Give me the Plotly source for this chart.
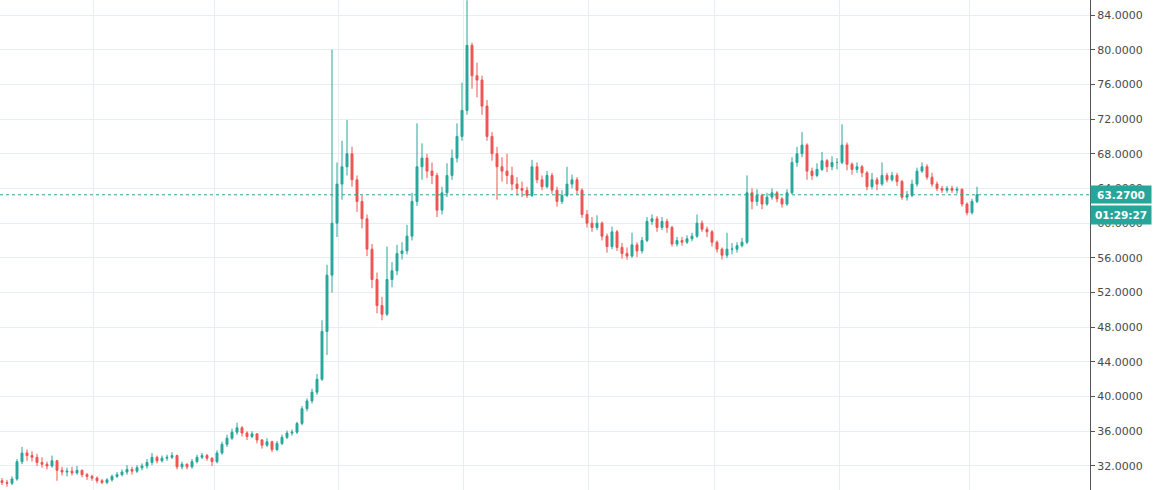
import plotly.graph_objects as go

# ---- data ----
opens = [30.3, 30.1, 30.0, 30.5, 32.5, 33.5, 33.2, 33.0, 32.4, 32.2,
         32.0, 32.6, 31.5, 31.3, 31.4, 31.2, 31.5, 31.0, 30.8, 30.6,
         30.3, 30.1, 30.4, 30.8, 31.0, 31.3, 31.6, 31.4, 31.8, 32.0,
         32.4, 33.0, 32.6, 32.9, 33.0, 33.2, 31.9, 32.2, 31.9, 32.5,
         33.0, 33.2, 32.9, 32.5, 33.5, 34.5, 35.2, 35.9, 36.4, 35.8,
         35.4, 35.7, 35.0, 34.4, 34.8, 33.9, 34.6, 35.3, 35.8, 35.9,
         36.9, 38.6, 39.5, 40.5, 42.0, 47.5, 54.0, 60.0, 64.5, 66.5,
         68.0, 65.0, 62.5, 60.5, 57.0, 53.5, 50.5, 49.5, 53.5, 54.5,
         56.5, 56.8, 58.5, 62.5, 66.5, 67.5, 66.0, 65.5, 61.5, 63.5,
         65.5, 67.5, 70.0, 73.0, 80.5, 77.0, 76.5, 73.5, 70.0, 68.0,
         66.5, 66.0, 65.5, 64.5, 64.0, 63.8, 63.2, 66.5, 65.0, 64.2,
         65.5, 63.8, 62.5, 63.2, 64.5, 65.0, 63.8, 61.0, 60.0, 59.5,
         60.0, 58.5, 57.3, 59.0, 57.2, 56.5, 56.2, 57.5, 56.8, 58.0,
         60.2, 60.5, 59.5, 60.2, 59.5, 57.6, 58.0, 57.8, 58.2, 58.5,
         60.0, 59.3, 59.0, 57.8, 57.0, 56.3, 57.0, 57.0, 57.4, 57.8,
         63.5, 62.5, 63.2, 62.2, 63.0, 63.5, 62.8, 62.2, 63.5, 67.0,
         68.0, 69.0, 66.0, 65.5, 66.2, 67.2, 66.5, 67.0, 67.0, 69.0,
         66.8, 66.2, 66.5, 65.8, 64.2, 65.0, 64.5, 65.5, 65.0, 65.5,
         64.8, 63.0, 63.2, 64.5, 66.0, 66.5, 65.3, 64.5, 64.0, 63.8,
         64.0, 63.8, 63.9, 62.2, 61.2, 62.5]

highs = [30.6, 30.4, 30.8, 32.8, 34.2, 33.9, 33.7, 33.4, 33.0, 32.5,
         33.2, 32.7, 31.9, 31.8, 31.9, 32.0, 31.6, 31.2, 31.0, 30.8,
         30.5, 30.6, 31.0, 31.3, 31.6, 32.1, 31.9, 32.1, 32.3, 32.8,
         33.5, 33.2, 33.2, 33.3, 33.6, 33.3, 32.5, 32.3, 32.8, 33.3,
         33.5, 33.4, 33.0, 33.8, 34.8, 35.6, 36.3, 37.0, 36.6, 36.0,
         36.0, 35.8, 35.1, 35.2, 34.9, 34.9, 35.6, 36.1, 36.2, 37.1,
         38.9, 39.8, 40.9, 42.6, 48.8, 55.2, 80.0, 67.0, 69.5, 71.9,
         68.8, 65.5, 63.2, 61.0, 57.6, 54.3, 51.5, 57.3, 55.5, 57.5,
         57.8, 59.8, 63.5, 71.5, 69.2, 68.0, 67.0, 65.8, 64.2, 66.9,
         68.5, 71.5, 76.2, 85.7, 80.8, 78.5, 77.0, 74.2, 70.5, 68.8,
         67.6, 68.0, 66.5, 65.3, 64.8, 64.2, 67.3, 67.0, 65.5, 66.0,
         65.8, 64.2, 63.8, 66.5, 65.6, 65.3, 64.0, 61.5, 60.7, 60.9,
         60.2, 58.8, 59.6, 59.2, 57.7, 57.2, 58.9, 57.8, 58.4, 60.7,
         61.0, 60.8, 60.7, 60.5, 59.7, 58.4, 58.4, 58.6, 58.9, 61.0,
         60.3, 59.6, 59.2, 58.0, 57.2, 58.9, 57.7, 57.8, 58.3, 65.5,
         64.0, 63.9, 63.4, 63.5, 64.0, 63.7, 63.0, 63.9, 67.6, 68.8,
         70.5, 69.2, 66.4, 66.9, 68.2, 67.4, 67.7, 67.5, 71.4, 69.3,
         67.0, 67.0, 66.7, 66.0, 65.8, 65.3, 67.0, 65.8, 65.9, 65.8,
         65.0, 63.7, 65.0, 66.4, 67.0, 66.8, 65.8, 64.8, 64.3, 64.3,
         64.3, 64.2, 64.0, 62.4, 62.8, 64.2]

lows = [29.8, 29.6, 29.8, 30.3, 32.2, 32.6, 32.5, 32.0, 31.8, 31.6,
        31.8, 30.3, 30.9, 30.8, 30.9, 31.0, 30.7, 30.4, 30.3, 30.0,
        29.9, 29.9, 30.2, 30.6, 30.8, 31.0, 31.0, 31.2, 31.5, 31.7,
        32.1, 32.3, 32.4, 32.6, 32.8, 31.6, 31.6, 31.6, 31.7, 32.3,
        32.8, 32.6, 32.0, 32.3, 33.3, 34.2, 35.0, 35.6, 35.4, 35.0,
        35.2, 34.6, 34.0, 34.2, 33.6, 33.7, 34.4, 35.1, 35.5, 35.7,
        36.7, 38.3, 39.2, 40.2, 41.8, 44.8, 52.0, 58.4, 62.7, 65.5,
        64.2, 61.3, 59.4, 56.2, 52.5, 49.6, 48.8, 49.3, 52.6, 54.0,
        55.8, 56.4, 58.0, 62.0, 65.0, 65.2, 64.5, 60.7, 61.0, 63.0,
        65.0, 67.0, 69.5, 72.5, 75.5, 74.5, 72.5, 69.5, 67.2, 62.7,
        64.8, 64.5, 63.8, 63.2, 63.0, 62.9, 63.0, 64.6, 63.8, 64.0,
        63.4, 61.9, 62.2, 63.0, 64.0, 63.3, 60.6, 59.5, 59.0, 59.2,
        58.0, 56.6, 57.0, 56.8, 55.9, 55.8, 56.0, 56.1, 56.5, 57.8,
        59.8, 59.0, 59.2, 58.9, 57.3, 57.3, 57.4, 57.6, 57.9, 58.3,
        59.0, 58.4, 57.3, 56.6, 55.8, 56.0, 56.4, 56.6, 57.2, 57.6,
        61.6, 62.0, 61.6, 62.0, 62.7, 62.4, 61.8, 62.0, 63.3, 66.5,
        67.6, 65.0, 65.0, 65.3, 66.0, 65.9, 66.1, 66.2, 66.8, 66.1,
        65.6, 65.8, 65.3, 63.8, 63.9, 63.8, 64.3, 64.7, 64.8, 64.3,
        62.7, 62.6, 63.0, 64.2, 65.8, 65.0, 64.2, 63.7, 63.5, 63.5,
        63.5, 63.4, 61.9, 60.9, 61.0, 62.3]

closes = [30.1, 30.0, 30.5, 32.5, 33.5, 33.2, 33.0, 32.4, 32.2, 32.0,
          32.6, 31.5, 31.3, 31.4, 31.2, 31.5, 31.0, 30.8, 30.6, 30.3,
          30.1, 30.4, 30.8, 31.0, 31.3, 31.6, 31.4, 31.8, 32.0, 32.4,
          33.0, 32.6, 32.9, 33.0, 33.2, 31.9, 32.2, 31.9, 32.5, 33.0,
          33.2, 32.9, 32.5, 33.5, 34.5, 35.2, 35.9, 36.4, 35.8, 35.4,
          35.7, 35.0, 34.4, 34.8, 33.9, 34.6, 35.3, 35.8, 35.9, 36.9,
          38.6, 39.5, 40.5, 42.0, 47.5, 54.0, 60.0, 64.5, 66.5, 68.0,
          65.0, 62.5, 60.5, 57.0, 53.5, 50.5, 49.5, 53.5, 54.5, 56.5,
          56.8, 58.5, 62.5, 66.5, 67.5, 66.0, 65.5, 61.5, 63.5, 65.5,
          67.5, 70.0, 73.0, 80.5, 77.0, 76.5, 73.5, 70.0, 68.0, 66.5,
          66.0, 65.5, 64.5, 64.0, 63.8, 63.2, 66.5, 65.0, 64.2, 65.5,
          63.8, 62.5, 63.2, 64.5, 65.0, 63.8, 61.0, 60.0, 59.5, 60.0,
          58.5, 57.3, 59.0, 57.2, 56.5, 56.2, 57.5, 56.8, 58.0, 60.2,
          60.5, 59.5, 60.2, 59.5, 57.6, 58.0, 57.8, 58.2, 58.5, 60.0,
          59.3, 59.0, 57.8, 57.0, 56.3, 57.0, 57.0, 57.4, 57.8, 63.5,
          62.5, 63.2, 62.2, 63.0, 63.5, 62.8, 62.2, 63.5, 67.0, 68.0,
          69.0, 66.0, 65.5, 66.2, 67.2, 66.5, 67.0, 67.0, 69.0, 66.8,
          66.2, 66.5, 65.8, 64.2, 65.0, 64.5, 65.5, 65.0, 65.5, 64.8,
          63.0, 63.2, 64.5, 66.0, 66.5, 65.3, 64.5, 64.0, 63.8, 64.0,
          63.8, 63.9, 62.2, 61.2, 62.5, 63.27]

bar_index = list(range(len(closes)))
last_price = 63.27
last_price_label = "63.2700"
countdown_label = "01:29:27"
price_ticks = [32, 36, 40, 44, 48, 52, 56, 60, 64, 68, 72, 76, 80, 84]
time_grid = [18.3, 42.5, 67.3, 92.3, 117.3, 142.5, 167.5, 193.5]

UP = "#26a69a"
DOWN = "#ef5350"
GRID = "#e8edf1"
AXIS = "#555555"
TEXT = "#4a4a4a"

fig = go.Figure()
fig.add_trace(go.Candlestick(
    x=bar_index, open=opens, high=highs, low=lows, close=closes,
    increasing=dict(line=dict(color=UP, width=1), fillcolor=UP),
    decreasing=dict(line=dict(color=DOWN, width=1), fillcolor=DOWN),
    whiskerwidth=0, hoverinfo="skip", showlegend=False,
))

fig.add_shape(type="line", xref="paper", x0=0, x1=1, yref="y",
              y0=last_price, y1=last_price,
              line=dict(color=UP, width=1, dash="dot"))

label_font = dict(color="white", size=10.5, family="DejaVu Sans")
fig.add_annotation(xref="paper", x=1, xanchor="left", xshift=0,
                   yref="y", y=last_price, yanchor="middle",
                   text="<b>" + last_price_label + "</b>", showarrow=False,
                   bgcolor=UP, font=label_font,
                   width=58, height=15, align="center")
fig.add_annotation(xref="paper", x=1, xanchor="left", xshift=0,
                   yref="y", y=last_price, yanchor="middle", yshift=-20,
                   text="<b>" + countdown_label + "</b>", showarrow=False,
                   bgcolor=UP, font=label_font,
                   width=58, height=16, align="center")

fig.update_layout(
    width=1157, height=490,
    margin=dict(l=0, r=67, t=0, b=0, pad=0),
    paper_bgcolor="white", plot_bgcolor="white",
    showlegend=False, hovermode=False, boxgap=0.45,
    font=dict(family="DejaVu Sans", size=11, color=TEXT),
    xaxis=dict(range=[-0.4, 217.6], rangeslider=dict(visible=False),
               tickvals=time_grid, showticklabels=False, ticks="",
               showgrid=True, gridcolor=GRID, gridwidth=1,
               zeroline=False, showline=False, fixedrange=True),
    yaxis=dict(side="right", range=[29.23, 85.73],
               tickvals=price_ticks, tickformat=".4f",
               showgrid=True, gridcolor=GRID, gridwidth=1,
               showline=True, linecolor=AXIS, linewidth=1,
               ticks="outside", ticklen=4, tickcolor=AXIS,
               tickfont=dict(family="DejaVu Sans", size=11, color=TEXT),
               zeroline=False, fixedrange=True),
)

fig.write_html("out.html",
               config={"displayModeBar": False, "staticPlot": True},
               post_script="document.body.style.margin='0';document.body.style.overflow='hidden';")
